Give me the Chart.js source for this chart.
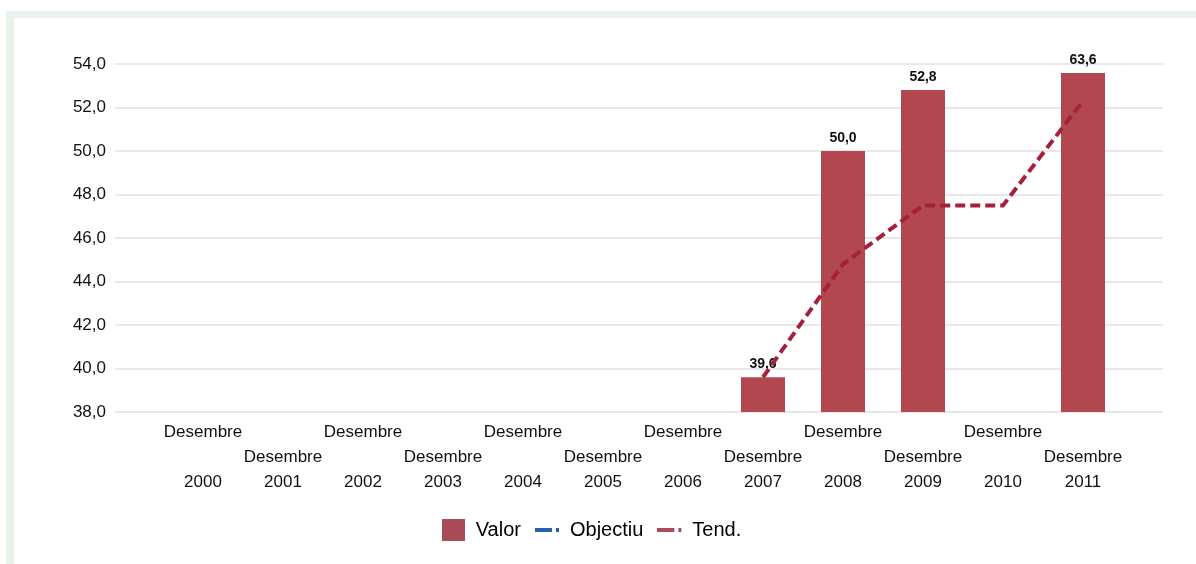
<!DOCTYPE html>
<html>
<head>
<meta charset="utf-8">
<script src="https://cdn.jsdelivr.net/npm/chart.js@4.4.0/dist/chart.umd.min.js"></script>
<style>
html, body { margin: 0; padding: 0; background: #fff; overflow: hidden; }
#marc { position: absolute; left: 6px; top: 11px; width: 1190px; height: 553px;
        border-left: 8px solid #e7f2ea; border-top: 7px solid #e7f2ea; }
#wrap { position: absolute; left: 0; top: 0; width: 1196px; height: 564px; }
</style>
</head>
<body>
<div id="marc"></div>
<div id="wrap"><canvas id="grafica"></canvas></div>
<script>
// dades llegides del gràfic
const anys = ['2000', '2001', '2002', '2003', '2004', '2005', '2006', '2007', '2008', '2009', '2010', '2011'];
const mes = 'Desembre';
const valor = [null, null, null, null, null, null, null, 39.6, 50.0, 52.8, null, 63.6];
const objectiu = [null, null, null, null, null, null, null, null, null, null, null, null];
const tendencia = [null, null, null, null, null, null, null, 39.6, 44.8, 47.5, 47.5, 52.3];
const yMin = 38, yMax = 54, yPas = 2;

const colorBarra = '#b3474f';
const colorTend = '#a3213a';
const retall = 9; // la barra de 2011 queda tallada una mica per sota del màxim

const coma = v => v.toFixed(1).replace('.', ',');

// icones de la llegenda
function icona(w, h, dibuix) {
    const c = document.createElement('canvas');
    c.width = w; c.height = h;
    dibuix(c.getContext('2d'));
    return c;
}
const iconaValor = icona(23, 22, g => { g.fillStyle = '#a84b57'; g.fillRect(0, 0, 23, 22); });
const iconaLinia = color => icona(26, 6, g => {
    g.fillStyle = color;
    g.fillRect(0, 1, 17, 4);
    g.fillRect(21, 1, 3, 4);
});

// etiquetes damunt les barres (abans de dibuixar la línia)
const etiquetesValor = {
    id: 'etiquetesValor',
    afterDatasetDraw(chart, args) {
        if (args.index !== 0) return;
        const ctx = chart.ctx;
        const area = chart.chartArea;
        ctx.save();
        ctx.font = 'bold 14px "Liberation Sans", Arial, sans-serif';
        ctx.fillStyle = '#111';
        ctx.textAlign = 'center';
        ctx.textBaseline = 'middle';
        args.meta.data.forEach((barra, i) => {
            if (valor[i] == null) return;
            const dalt = Math.max(barra.y, area.top + retall);
            ctx.fillText(coma(valor[i]), barra.x, dalt - 13);
        });
        ctx.restore();
    }
};

const punts = serie => anys.map((a, i) => ({ x: i, y: serie[i] }));

$grafica = document.querySelector('#grafica');
new Chart($grafica, {
    type: 'bar',
    data: {
        datasets: [
            {
                label: 'Valor',
                data: punts(valor),
                backgroundColor: colorBarra,
                barPercentage: 0.55,
                categoryPercentage: 1,
                clip: { left: false, right: false, top: -retall, bottom: 0 },
                order: 2
            },
            {
                type: 'line',
                label: 'Objectiu',
                data: punts(objectiu),
                borderColor: '#2a5fb0',
                borderWidth: 4,
                pointRadius: 0,
                order: 1
            },
            {
                type: 'line',
                label: 'Tend.',
                data: punts(tendencia),
                borderColor: colorTend,
                borderWidth: 4,
                borderDash: [10, 5],
                pointRadius: 0,
                tension: 0,
                order: 0
            }
        ]
    },
    options: {
        responsive: true,
        maintainAspectRatio: false,
        animation: false,
        layout: { padding: { left: 20, right: 33, top: 64, bottom: 14 } },
        font: { family: '"Liberation Sans", Arial, sans-serif' },
        scales: {
            x: {
                type: 'linear',
                offset: false,
                min: -1,
                max: 12,
                grid: { display: false },
                border: { display: false },
                afterBuildTicks: s => { s.ticks = anys.map((a, i) => ({ value: i })); },
                afterFit: s => { s.height = 93; },
                ticks: {
                    autoSkip: false,
                    maxRotation: 0,
                    padding: 0,
                    color: '#111',
                    font: { size: 17, lineHeight: 1.47 },
                    callback: v => v % 2 === 0 ? [mes, '', anys[v]] : ['', mes, anys[v]]
                }
            },
            y: {
                min: yMin,
                max: yMax,
                border: { display: false },
                grid: { color: '#e8e8e8', lineWidth: 2, tickLength: 8 },
                afterFit: s => { s.width = 103; },
                ticks: {
                    stepSize: yPas,
                    padding: 9,
                    color: '#111',
                    font: { size: 17 },
                    callback: v => coma(v)
                }
            }
        },
        plugins: {
            tooltip: { enabled: false },
            legend: {
                position: 'bottom',
                labels: {
                    usePointStyle: true,
                    pointStyleWidth: 24,
                    padding: 15,
                    color: '#222',
                    font: { size: 20 },
                    generateLabels: () => [
                        { text: 'Valor', pointStyle: iconaValor, datasetIndex: 0, lineWidth: 0, hidden: false },
                        { text: 'Objectiu', pointStyle: iconaLinia('#2a5fb0'), datasetIndex: 1, lineWidth: 0, hidden: false },
                        { text: 'Tend.', pointStyle: iconaLinia('#a84b5c'), datasetIndex: 2, lineWidth: 0, hidden: false }
                    ]
                }
            }
        }
    },
    plugins: [etiquetesValor]
});
</script>
</body>
</html>
